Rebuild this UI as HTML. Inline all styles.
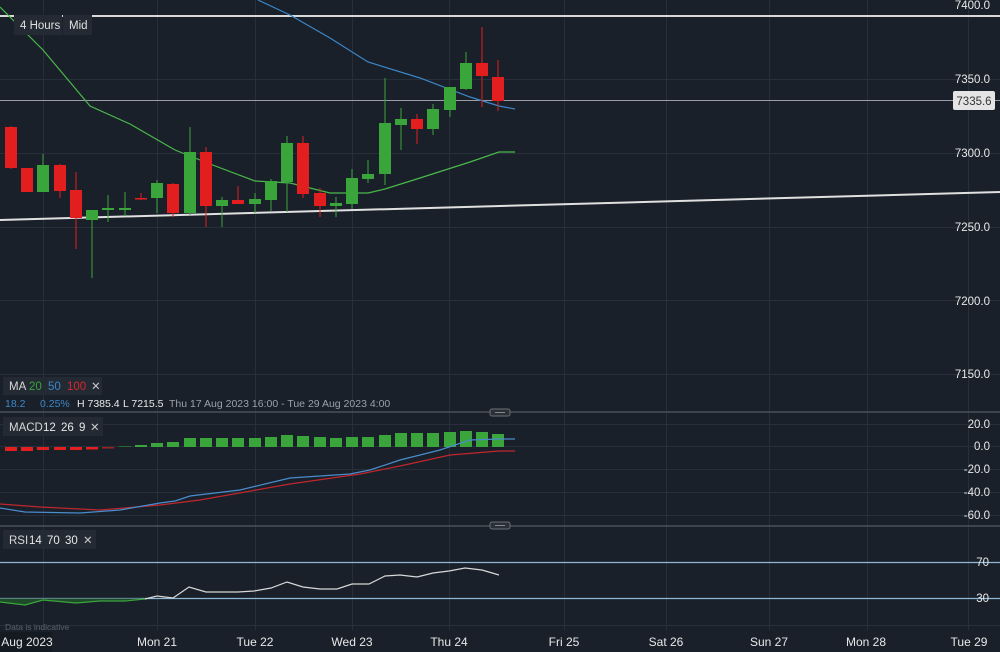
<!DOCTYPE html>
<html><head><meta charset="utf-8"><style>
html,body{margin:0;padding:0;background:#19202a;}
svg{display:block;font-family:"Liberation Sans",sans-serif;}
</style></head><body>
<svg width="1000" height="652" viewBox="0 0 1000 652" xmlns="http://www.w3.org/2000/svg">
<rect width="1000" height="652" fill="#19202a"/>
<g stroke="#272f3a" stroke-width="1">
<line x1="0" y1="79.5" x2="1000" y2="79.5"/><line x1="0" y1="153.5" x2="1000" y2="153.5"/>
<line x1="0" y1="227.5" x2="1000" y2="227.5"/><line x1="0" y1="300.5" x2="1000" y2="300.5"/>
<line x1="0" y1="374.5" x2="1000" y2="374.5"/>
<line x1="0" y1="424.5" x2="1000" y2="424.5"/><line x1="0" y1="446.5" x2="1000" y2="446.5"/>
<line x1="0" y1="469.5" x2="1000" y2="469.5"/><line x1="0" y1="492.5" x2="1000" y2="492.5"/>
<line x1="0" y1="515.5" x2="1000" y2="515.5"/>
<line x1="0" y1="625.5" x2="1000" y2="625.5"/>
<line x1="43.5" y1="0" x2="43.5" y2="630"/><line x1="157.5" y1="0" x2="157.5" y2="630"/>
<line x1="255.5" y1="0" x2="255.5" y2="630"/><line x1="352.5" y1="0" x2="352.5" y2="630"/>
<line x1="449.5" y1="0" x2="449.5" y2="630"/><line x1="564.5" y1="0" x2="564.5" y2="630"/>
<line x1="666.5" y1="0" x2="666.5" y2="630"/><line x1="769.5" y1="0" x2="769.5" y2="630"/>
<line x1="867.5" y1="0" x2="867.5" y2="630"/><line x1="968.5" y1="0" x2="968.5" y2="630"/>
</g>
<line x1="0" y1="412" x2="1000" y2="412" stroke="#4a5058" stroke-width="1.5"/>
<line x1="0" y1="526" x2="1000" y2="526" stroke="#4a5058" stroke-width="1.5"/>
<rect x="490" y="409" width="20" height="7" rx="2" fill="#2a3038" stroke="#6a6f76"/>
<line x1="495" y1="412.5" x2="505" y2="412.5" stroke="#888"/>
<rect x="490" y="522" width="20" height="7" rx="2" fill="#2a3038" stroke="#6a6f76"/>
<line x1="495" y1="525.5" x2="505" y2="525.5" stroke="#888"/>

<line x1="0" y1="16" x2="1000" y2="16" stroke="#d8d8d8" stroke-width="2"/>
<line x1="0" y1="100.5" x2="1000" y2="100.5" stroke="#9a9ea4" stroke-width="1"/>
<line x1="0" y1="220" x2="1000" y2="192" stroke="#e0e0e0" stroke-width="2"/>

<polyline fill="none" stroke="#4ab84a" stroke-width="1.2" points="0,7 43,50 90,106 130,124 175,150 210,164 255,181 290,183 330,193 368,193 385,189 420,178 470,162 499,152 515,152"/>
<polyline fill="none" stroke="#3d86c6" stroke-width="1.2" points="258,0 290,15 330,38 368,62 420,78 470,97 499,106 515,109"/>

<g stroke-width="1">
<line x1="11" y1="126" x2="11" y2="169" stroke="#e21e1e"/><rect x="5" y="127" width="12" height="41" fill="#e21e1e"/>
<line x1="27" y1="168" x2="27" y2="192" stroke="#e21e1e"/><rect x="21" y="168" width="12" height="24" fill="#e21e1e"/>
<line x1="43" y1="154" x2="43" y2="192" stroke="#3aa53a"/><rect x="37" y="165" width="12" height="27" fill="#3aa53a"/>
<line x1="60" y1="164" x2="60" y2="198" stroke="#e21e1e"/><rect x="54" y="165" width="12" height="26" fill="#e21e1e"/>
<line x1="76" y1="172" x2="76" y2="249" stroke="#e21e1e"/><rect x="70" y="190" width="12" height="28" fill="#e21e1e"/>
<line x1="92" y1="210" x2="92" y2="278" stroke="#3aa53a"/><rect x="86" y="210" width="12" height="10" fill="#3aa53a"/>
<line x1="108" y1="195" x2="108" y2="222" stroke="#3aa53a"/><rect x="102" y="208" width="12" height="2" fill="#3aa53a"/>
<line x1="125" y1="192" x2="125" y2="216" stroke="#3aa53a"/><rect x="119" y="208" width="12" height="2" fill="#3aa53a"/>
<line x1="141" y1="193" x2="141" y2="200" stroke="#e21e1e"/><rect x="135" y="198" width="12" height="1.5" fill="#e21e1e"/>
<line x1="157" y1="180" x2="157" y2="213" stroke="#3aa53a"/><rect x="151" y="183" width="12" height="15" fill="#3aa53a"/>
<line x1="173" y1="183" x2="173" y2="217" stroke="#e21e1e"/><rect x="167" y="184" width="12" height="29" fill="#e21e1e"/>
<line x1="190" y1="127" x2="190" y2="215" stroke="#3aa53a"/><rect x="184" y="152" width="12" height="61" fill="#3aa53a"/>
<line x1="206" y1="147" x2="206" y2="227" stroke="#e21e1e"/><rect x="200" y="152" width="12" height="54" fill="#e21e1e"/>
<line x1="222" y1="197" x2="222" y2="227" stroke="#3aa53a"/><rect x="216" y="200" width="12" height="6" fill="#3aa53a"/>
<line x1="238" y1="186" x2="238" y2="204" stroke="#e21e1e"/><rect x="232" y="200" width="12" height="4" fill="#e21e1e"/>
<line x1="255" y1="193" x2="255" y2="213" stroke="#3aa53a"/><rect x="249" y="199" width="12" height="5" fill="#3aa53a"/>
<line x1="271" y1="179" x2="271" y2="211" stroke="#3aa53a"/><rect x="265" y="181" width="12" height="19" fill="#3aa53a"/>
<line x1="287" y1="136" x2="287" y2="212" stroke="#3aa53a"/><rect x="281" y="143" width="12" height="39" fill="#3aa53a"/>
<line x1="303" y1="136" x2="303" y2="198" stroke="#e21e1e"/><rect x="297" y="143" width="12" height="51" fill="#e21e1e"/>
<line x1="320" y1="188" x2="320" y2="217" stroke="#e21e1e"/><rect x="314" y="193" width="12" height="13" fill="#e21e1e"/>
<line x1="336" y1="197" x2="336" y2="217" stroke="#3aa53a"/><rect x="330" y="203" width="12" height="3" fill="#3aa53a"/>
<line x1="352" y1="169" x2="352" y2="209" stroke="#3aa53a"/><rect x="346" y="178" width="12" height="26" fill="#3aa53a"/>
<line x1="368" y1="160" x2="368" y2="183" stroke="#3aa53a"/><rect x="362" y="174" width="12" height="5" fill="#3aa53a"/>
<line x1="385" y1="78" x2="385" y2="185" stroke="#3aa53a"/><rect x="379" y="123" width="12" height="51" fill="#3aa53a"/>
<line x1="401" y1="108" x2="401" y2="150" stroke="#3aa53a"/><rect x="395" y="119" width="12" height="6" fill="#3aa53a"/>
<line x1="417" y1="114" x2="417" y2="144" stroke="#e21e1e"/><rect x="411" y="119" width="12" height="10" fill="#e21e1e"/>
<line x1="433" y1="104" x2="433" y2="135" stroke="#3aa53a"/><rect x="427" y="109" width="12" height="20" fill="#3aa53a"/>
<line x1="450" y1="87" x2="450" y2="117" stroke="#3aa53a"/><rect x="444" y="87" width="12" height="23" fill="#3aa53a"/>
<line x1="466" y1="52" x2="466" y2="90" stroke="#3aa53a"/><rect x="460" y="63" width="12" height="26" fill="#3aa53a"/>
<line x1="482" y1="27" x2="482" y2="107" stroke="#e21e1e"/><rect x="476" y="63" width="12" height="13" fill="#e21e1e"/>
<line x1="498" y1="60" x2="498" y2="111" stroke="#e21e1e"/><rect x="492" y="77" width="12" height="24" fill="#e21e1e"/>
</g>

<g fill="#3aa53a">
<rect x="5" y="447" width="12" height="4" fill="#e21e1e"/>
<rect x="21" y="447" width="12" height="4" fill="#e21e1e"/>
<rect x="37" y="447" width="12" height="3" fill="#e21e1e"/>
<rect x="54" y="447" width="12" height="3" fill="#e21e1e"/>
<rect x="70" y="447" width="12" height="3" fill="#e21e1e"/>
<rect x="86" y="447" width="12" height="2.5" fill="#e21e1e"/>
<rect x="102" y="447" width="12" height="1.5" fill="#a02020"/>
<rect x="119" y="446" width="12" height="1" fill="#2a6a2a"/>
<rect x="135" y="445" width="12" height="2"/>
<rect x="151" y="443" width="12" height="4"/>
<rect x="167" y="442" width="12" height="5"/>
<rect x="184" y="438" width="12" height="9"/>
<rect x="200" y="438" width="12" height="9"/>
<rect x="216" y="438" width="12" height="9"/>
<rect x="232" y="438" width="12" height="9"/>
<rect x="249" y="438" width="12" height="9"/>
<rect x="265" y="437" width="12" height="10"/>
<rect x="281" y="435" width="12" height="12"/>
<rect x="297" y="436" width="12" height="11"/>
<rect x="314" y="437" width="12" height="10"/>
<rect x="330" y="438" width="12" height="9"/>
<rect x="346" y="437" width="12" height="10"/>
<rect x="362" y="437" width="12" height="10"/>
<rect x="379" y="435" width="12" height="12"/>
<rect x="395" y="433" width="12" height="14"/>
<rect x="411" y="433" width="12" height="14"/>
<rect x="427" y="433" width="12" height="14"/>
<rect x="444" y="432" width="12" height="15"/>
<rect x="460" y="431" width="12" height="16"/>
<rect x="476" y="432" width="12" height="15"/>
<rect x="492" y="434" width="12" height="13"/>
</g>
<polyline fill="none" stroke="#c0272d" stroke-width="1.2" points="0,504 40,507 100,510 160,505 200,500 290,484 360,474 400,466 450,455 499,451 515,451"/>
<polyline fill="none" stroke="#4a8ccc" stroke-width="1.2" points="0,508 25,512 80,513 120,510 160,503 175,501 190,496 240,490 290,478 350,474 370,470 400,460 440,450 470,440 499,439 515,439"/>

<line x1="0" y1="562.5" x2="1000" y2="562.5" stroke="#8fb8d8" stroke-width="1.2"/>
<line x1="0" y1="598.5" x2="1000" y2="598.5" stroke="#8fb8d8" stroke-width="1.2"/>
<polygon fill="#1f4a2a" points="0,598.5 0,602 25,605 43,600 76,603 100,601 125,601 145,599 148,598.5"/>
<polyline fill="none" stroke="#3aa53a" stroke-width="1.2" points="0,602 25,605 43,600 76,603 100,601 125,601 145,599"/>
<polyline fill="none" stroke="#d8d8d8" stroke-width="1.2" points="145,599 157,596 173,598 189,587 206,592 238,592 254,591 271,588 287,582 303,587 320,589 337,589 352,584 369,584 385,576 400,575 417,577 433,573 449,571 465,568 482,570 499,575"/>

<g fill="#e8e8e8" font-size="11.5" text-anchor="end">
<text x="990" y="9">7400.0</text>
<text x="990" y="83">7350.0</text>
<text x="990" y="157">7300.0</text>
<text x="990" y="231">7250.0</text>
<text x="990" y="305">7200.0</text>
<text x="990" y="378">7150.0</text>
<text x="990" y="428">20.0</text>
<text x="990" y="450">0.0</text>
<text x="990" y="473">-20.0</text>
<text x="990" y="496">-40.0</text>
<text x="990" y="519">-60.0</text>
<text x="989" y="566">70</text>
<text x="989" y="602">30</text>
</g>
<rect x="953" y="91" width="42" height="19" rx="2" fill="#e4e4e4"/>
<text x="974" y="105" fill="#333" font-size="11.5" text-anchor="middle">7335.6</text>

<rect x="14" y="15" width="48" height="20" fill="#232a33"/>
<rect x="63" y="15" width="29" height="20" fill="#232a33"/>
<g fill="#e0e0e0" font-size="11.5">
<text x="20" y="29">4 Hours</text><text x="69" y="29">Mid</text>
</g>
<rect x="3" y="377" width="99" height="18" fill="#232a33"/>
<g font-size="11.5">
<text x="9" y="390" fill="#d8d8d8">MA</text>
<text x="29" y="390" fill="#3aa53a">20</text>
<text x="48" y="390" fill="#3d86c6">50</text>
<text x="67" y="390" fill="#d8262d">100</text>
<text x="91" y="390" fill="#c8c8c8">✕</text>
</g>
<g font-size="10.5">
<text x="5" y="407" fill="#3d86c6">18.2</text>
<text x="40" y="407" fill="#3d86c6">0.25%</text>
<text x="77" y="407" fill="#e8e8e8">H 7385.4</text>
<text x="123" y="407" fill="#e8e8e8">L 7215.5</text>
<text x="169" y="407" fill="#9aa0a8">Thu 17 Aug 2023 16:00 - Tue 29 Aug 2023 4:00</text>
</g>
<rect x="3" y="417" width="100" height="19" fill="#232a33"/>
<g font-size="11.5">
<text x="9" y="431" fill="#d8d8d8">MACD</text>
<text x="43" y="431" fill="#e8e8e8">12</text>
<text x="61" y="431" fill="#e8e8e8">26</text>
<text x="79" y="431" fill="#e8e8e8">9</text>
<text x="90" y="431" fill="#c8c8c8">✕</text>
</g>
<rect x="3" y="530" width="93" height="19" fill="#232a33"/>
<g font-size="11.5">
<text x="9" y="544" fill="#d8d8d8">RSI</text>
<text x="29" y="544" fill="#e8e8e8">14</text>
<text x="47" y="544" fill="#e8e8e8">70</text>
<text x="65" y="544" fill="#e8e8e8">30</text>
<text x="83" y="544" fill="#c8c8c8">✕</text>
</g>
<text x="5" y="630" fill="#5a626c" font-size="8.5">Data is indicative</text>

<rect x="0" y="632" width="52" height="20" fill="#141a22"/>
<g fill="#e8e8e8" font-size="12" text-anchor="middle">
<text x="27" y="646">Aug 2023</text>
<text x="157" y="646">Mon 21</text>
<text x="255" y="646">Tue 22</text>
<text x="352" y="646">Wed 23</text>
<text x="449" y="646">Thu 24</text>
<text x="564" y="646">Fri 25</text>
<text x="666" y="646">Sat 26</text>
<text x="769" y="646">Sun 27</text>
<text x="866" y="646">Mon 28</text>
<text x="969" y="646">Tue 29</text>
</g>
</svg>
</body></html>
